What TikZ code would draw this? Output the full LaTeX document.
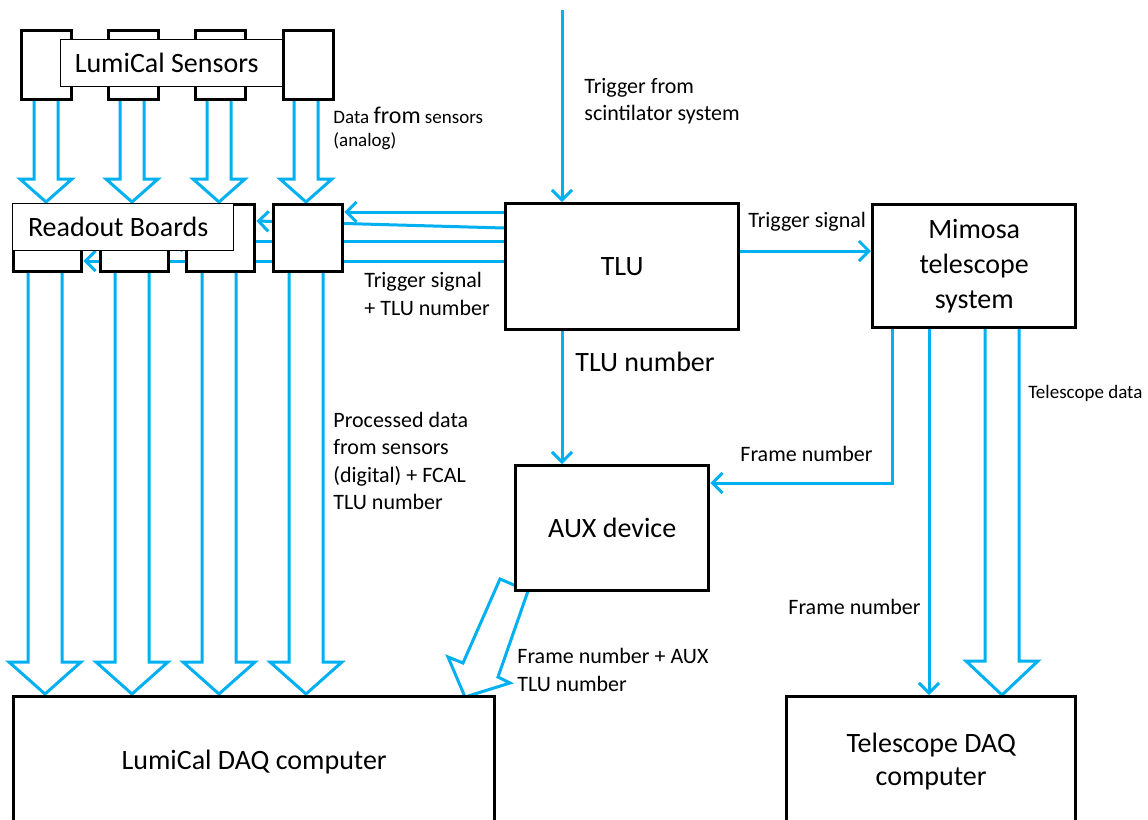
\documentclass[tikz,border=0pt]{standalone}
\usepackage{fontspec}
\setmainfont{Carlito}
\usetikzlibrary{arrows.meta,calc}
\definecolor{lb}{RGB}{0,176,240}
\pgfdeclarelayer{bg}
\pgfsetlayers{bg,main}
\newcommand\HollowDown[6]{% x center, y top, y head, y tip, shaft half, wing half
  \draw[wire,line join=miter] (#1-#5,#2) -- (#1-#5,#3) -- (#1-#6,#3) -- (#1,#4) -- (#1+#6,#3) -- (#1+#5,#3) -- (#1+#5,#2);}
\tikzset{
  blk/.style={draw=black,line width=1.7pt,fill=white,inner sep=0pt,align=center,anchor=north west,font=\fontsize{14}{17.5}\selectfont},
  lbl/.style={draw=black,line width=0.7pt,fill=white,inner sep=0pt,anchor=north west,font=\fontsize{14}{17}\selectfont},
  wire/.style={draw=lb,line width=1.5pt},
  arr/.style={wire,-{Straight Barb[length=5pt,width=10pt]}},
  txt/.style={anchor=west,align=left,inner sep=0pt,font=\fontsize{11}{13.8}\selectfont},
}
\begin{document}
\begin{tikzpicture}[x=0.5pt,y=-0.5pt]
\useasboundingbox (0,0) rectangle (1148,820);
% sensors
\node[blk,minimum width=25pt,minimum height=34.5pt] (s1) at (20,29) {};
\node[blk,minimum width=25pt,minimum height=34.5pt] (s2) at (107,29) {};
\node[blk,minimum width=25pt,minimum height=34.5pt] (s3) at (194,29) {};
\node[blk,minimum width=25pt,minimum height=34.5pt] (s4) at (282,29) {};
\node[lbl,minimum width=111pt,minimum height=23.5pt] (slab) at (60,39) {LumiCal Sensors\hspace*{5pt}};
% readout boards
\node[blk,minimum width=34pt,minimum height=33.5pt] (r1) at (12,203) {};
\node[blk,minimum width=34pt,minimum height=33.5pt] (r2) at (99,203) {};
\node[blk,minimum width=34pt,minimum height=33.5pt] (r3) at (185,203) {};
\node[blk,minimum width=34.5pt,minimum height=33.5pt] (r4) at (272,203) {};
\node[lbl,minimum width=110.5pt,minimum height=23.5pt] (rlab) at (12,203) {Readout Boards\hspace*{5pt}};
% main boxes
\node[blk,minimum width=116.5pt,minimum height=63pt] (tlu) at (504,202) {TLU};
\node[blk,minimum width=101.5pt,minimum height=61.5pt] (mim) at (871,203) {Mimosa\\telescope\\system};
\node[blk,minimum width=96.5pt,minimum height=62.5pt] (aux) at (514,464) {AUX device};
\node[blk,minimum width=240.5pt,minimum height=65pt] (ldaq) at (12,695) {LumiCal DAQ computer};
\node[blk,minimum width=144.5pt,minimum height=65pt,font=\fontsize{14}{16.5}\selectfont] (tdaq) at (785,695) {Telescope DAQ\\computer};
% labels
\node[txt] (l1) at (584,101) {Trigger from\\scintilator system};
\node[txt] (l2) at (748,222) {Trigger signal};
\node[txt] (l3) at (364,294) {Trigger signal\\+ TLU number};
\node[txt,font=\fontsize{14}{17}\selectfont] (l4) at (575,362) {TLU number};
\node[txt] (l5) at (740,454) {Frame number};
\node[txt,font=\fontsize{9.5}{11.5}\selectfont] (l6) at (1028,393) {Telescope data};
\node[txt] (l7) at (788,607) {Frame number};
\node[txt] (l8) at (333,461) {Processed data\\from sensors\\(digital) + FCAL\\TLU number};
\node[txt] (l9) at (517,670) {Frame number + AUX\\TLU number};
\node[txt,font=\fontsize{9.5}{11.5}\selectfont] (l10) at (333,128) {Data {\fontsize{12}{12}\selectfont from} sensors\\(analog)};
% connectors
\coordinate (trigsrc) at (562,10);
\begin{pgfonlayer}{bg}
\draw[arr] (trigsrc) -- (trigsrc |- tlu.north);
\draw[arr] (tlu.east |- 0,251) -- (mim.west |- 0,251);
\draw[arr] (tlu.south -| trigsrc) -- (aux.north -| trigsrc);
\draw[arr] (mim.south -| 892,0) |- (aux.east |- 0,483);
\draw[arr] (mim.south -| 929,0) -- (tdaq.north -| 929,0);
\HollowDown{1002}{326}{661}{695}{17}{36}
% TLU to readout boards
\draw[arr] (tlu.west |- 0,212) -- (r4.east |- 0,212);
\draw[arr] (tlu.west |- 0,228) -- (r3.east |- 0,221);
\draw[arr] (tlu.west |- 0,241) -- (r2.east |- 0,241);
\draw[arr] (tlu.west |- 0,261) -- (r1.east |- 0,261);
% sensors to readout
\foreach \c in {46,132,219,306} {\HollowDown{\c}{98}{179}{202}{12}{26}}
% readout to DAQ
\foreach \c in {45,132,219,306} {\HollowDown{\c}{270}{662}{694}{17}{36}}
% AUX to LumiCal DAQ
\draw[wire,line join=miter] (500,579) -- (528,591) -- (498,677) -- (510,683) -- (465,697) -- (448,657) -- (463,663) -- cycle;
\end{pgfonlayer}
\end{tikzpicture}
\end{document}
